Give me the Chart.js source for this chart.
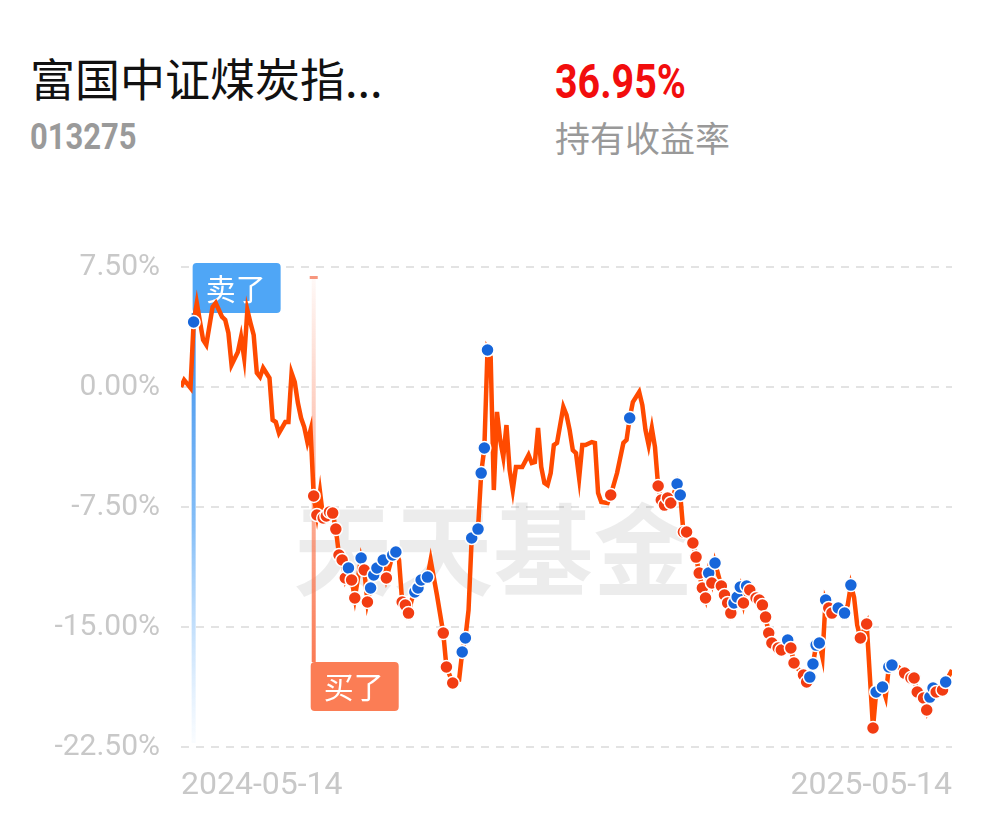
<!DOCTYPE html>
<html>
<head>
<meta charset="utf-8">
<script src="https://cdn.jsdelivr.net/npm/chart.js@4.4.1/dist/chart.umd.min.js"></script>
<style>
  html, body { margin: 0; padding: 0; background: #fff; }
  body { width: 995px; height: 821px; position: relative; overflow: hidden; }
  #chart { position: absolute; left: 0; top: 0; }
  .t { position: absolute; line-height: 1; white-space: nowrap; }
  #name { left: 30px; top: 45px; font: 45px "Noto Sans CJK SC"; color: #111; }
  #code { left: 30px; top: 116px; font: bold 36px Roboto; color: #9a9a9a; transform: scaleX(0.86); transform-origin: left; }
  #rate { left: 555px; top: 53px; font: bold 48px Roboto; color: #f20d0d; transform: scaleX(0.82); transform-origin: left; }
  #rateLabel { left: 555px; top: 111px; font: 35px "Noto Sans CJK SC"; color: #999; }
</style>
</head>
<body>
<div class="t" id="name">富国中证煤炭指...</div>
<div class="t" id="code">013275</div>
<div class="t" id="rate">36.95%</div>
<div class="t" id="rateLabel">持有收益率</div>
<canvas id="chart" width="995" height="821"></canvas>
<script>
// trading day index (0 = 2024-05-14, 244 = 2025-05-14)
const days = [
  0, 1, 2, 3, 4, 5, 7, 8, 10, 11, 13, 14, 15, 16, 18, 19, 20, 21, 22, 23, 24, 25, 26, 28, 29, 30, 31, 33, 34, 35, 36, 37, 38, 39, 40, 41,
  42, 43, 44, 45, 46, 47, 48, 49, 50, 51, 52, 53, 54, 55, 57, 58, 59, 60, 61, 62, 64, 65, 67, 68, 69, 70, 71, 72, 73, 74,
  75, 76, 78, 79, 81, 83, 84, 85, 86, 88, 89, 90, 91, 92, 94, 95, 96, 97,
  98, 99, 100, 101, 102, 103, 104, 105, 106, 108, 110, 111, 112, 113, 114, 115, 116, 117, 118, 119,
  121, 122, 123, 124, 125, 126, 127, 128, 130, 131, 132, 133, 135, 136, 138, 140, 141, 142, 143, 145,
  146, 147, 148, 149, 150,
  151, 152, 153, 154, 155, 157, 158, 159, 160, 162, 163, 164, 165, 166, 167, 168, 169, 171, 172, 173,
  174, 175, 176, 177, 178, 179, 180, 182, 183, 184, 185, 186, 187, 189, 190, 192, 193, 194, 195, 197,
  198, 199, 200, 201, 202, 203, 204, 205, 206, 208, 210, 211, 212, 213, 214, 215, 217, 219, 220, 222,
  223, 224, 225, 227, 229, 231, 232, 233, 235, 236, 237, 238, 239, 241, 242, 244
];

// 持有收益率 (%)
const returns = [
  0.00, 0.44, 0.19, -0.06, 4.06, 5.25, 2.94, 2.63, 5.00, 5.25, 4.38, 4.19, 3.38, 1.38, 2.19, 3.13, 1.81, 4.81, 4.00, 3.25,
  0.88, 0.63, 1.19, 0.56, -2.06, -2.19, -2.88, -2.19, -2.19, 0.88, 0.31, -1.00, -1.94, -2.50, -3.44, -2.69,
  -6.81, -8.00, -6.56, -8.19, -8.06, -7.81, -7.88, -8.88, -10.50, -10.81, -11.94, -11.31, -12.06, -13.19, -10.69, -11.44, -13.44, -12.56, -11.75, -11.31,
  -10.81, -11.94, -10.50, -10.31, -10.81, -13.44, -13.63, -14.13, -13.31, -12.81, -12.56, -12.06, -11.88, -10.81, -13.00, -15.38, -17.50, -18.00, -18.50, -18.31,
  -16.56, -15.69, -13.94, -9.44, -8.88, -5.38, -3.81, 2.31,
  1.88, -6.44, -1.56, -3.31, -4.38, -2.38, -5.19, -6.44, -5.00, -5.00, -4.25, -4.75, -4.69, -2.56, -5.00, -6.00, -6.13, -5.38, -3.63, -3.50,
  -1.25, -1.75, -2.69, -3.94, -4.13, -5.69, -3.63, -3.63, -3.44, -3.50, -6.63, -7.19, -7.25, -6.75, -5.38, -3.50, -3.31, -1.94, -0.94, -0.31,
  -1.13, -2.69, -3.63, -2.56, -3.75,
  -6.19, -7.06, -7.38, -6.94, -7.25, -6.06, -6.75, -9.06, -9.06, -9.75, -10.63, -11.63, -12.56, -13.19, -11.63, -12.25, -11.00, -12.44, -13.00, -13.50,
  -14.13, -13.50, -13.13, -12.50, -13.50, -12.44, -12.69, -13.19, -13.31, -13.63, -14.38, -15.38, -16.00, -16.31, -16.44, -15.81, -16.31, -17.25, -17.56, -18.00,
  -18.44, -18.13, -17.31, -16.13, -16.00, -16.88, -13.31, -13.81, -14.13, -13.81, -14.13, -13.63, -12.38, -13.13, -14.88, -15.69, -14.81, -21.31, -19.06, -18.75,
  -19.38, -17.50, -17.38, -17.50, -17.88, -18.19, -18.19, -19.06, -19.44, -20.19, -19.38, -18.81, -19.06, -18.94, -18.44, -17.69
];

// B = 买入, S = 卖出, '' = no trade
const trades = [
  '', '', '', '', 'S', '', '', '', '', '', '', '', '', '', '', '', '', '', '', '',
  '', '', '', '', '', '', '', '', '', '', '', '', '', '', '', '',
  'B', 'B', '', 'B', 'B', 'B', 'B', 'B', 'B', 'B', 'B', 'S', 'B', 'B', 'S', 'B', 'B', 'S', 'S', 'S',
  'S', 'B', 'S', 'S', '', 'B', 'B', 'B', '', 'S', 'S', 'S', 'S', '', '', 'B', 'B', '', 'B', '',
  'S', 'S', '', 'S', 'S', 'S', 'S', 'S',
  '', '', '', '', '', '', '', '', '', '', '', '', '', '', '', '', '', '', '', '',
  '', '', '', '', '', '', '', '', '', '', '', '', '', 'B', '', '', '', 'S', '', '',
  '', '', '', '', '',
  'B', 'B', 'B', 'B', 'B', 'S', 'S', 'B', 'B', 'B', 'B', 'B', 'B', 'B', 'S', 'B', 'S', 'B', 'B', 'B',
  'B', 'S', 'S', 'S', 'B', 'S', 'B', 'B', 'B', 'B', 'B', 'B', 'B', 'B', 'B', 'S', 'B', 'B', '', 'B',
  'B', 'S', 'S', 'S', 'S', '', 'S', 'B', 'B', 'S', 'S', '', 'S', '', '', 'B', 'B', 'B', 'S', 'S',
  '', 'S', 'S', '', 'B', 'B', 'B', 'B', 'B', 'B', 'S', 'S', 'B', 'B', 'S', ''
];

const dateLabels = { 0: '2024-05-14', 244: '2025-05-14' };
const yTicks = [7.5, 0, -7.5, -15, -22.5];

const LINE = '#ff4a00';
const BUY = '#f23c12';
const SELL = '#1766da';

// 水印 + 买卖标签
const tradeTags = {
  id: 'tradeTags',
  beforeDatasetsDraw(chart) {
    const { ctx, chartArea: a, scales: { x, y } } = chart;
    ctx.save();

    ctx.font = 'bold 100px "Noto Sans CJK SC"';
    ctx.fillStyle = 'rgba(0,0,0,0.075)';
    ctx.textAlign = 'center';
    ctx.textBaseline = 'middle';
    ctx.fillText('天天基金', a.left + a.width * 0.405, a.top + a.height * 0.59);

    // 卖了
    const si = trades.indexOf('S');
    const sx = x.getPixelForValue(days[si]);
    let g = ctx.createLinearGradient(0, a.top + 46, 0, a.bottom);
    g.addColorStop(0, 'rgba(55,140,235,1)');
    g.addColorStop(0.5, 'rgba(95,170,245,0.75)');
    g.addColorStop(1, 'rgba(140,195,250,0.03)');
    ctx.fillStyle = g;
    ctx.fillRect(sx - 2, a.top + 46, 4, a.bottom - a.top - 50);
    ctx.fillStyle = '#4fa6f6';
    ctx.beginPath();
    ctx.roundRect(sx - 1, a.top - 4, 88, 50, 4);
    ctx.fill();
    ctx.fillStyle = '#fff';
    ctx.font = '30px "Noto Sans CJK SC"';
    ctx.fillText('卖了', sx + 42, a.top + 22);

    // 买了
    const bi = trades.indexOf('B');
    const bx = x.getPixelForValue(days[bi]);
    const boxTop = a.bottom - 85;
    g = ctx.createLinearGradient(0, a.top + 10, 0, boxTop);
    g.addColorStop(0, 'rgba(250,115,75,0.04)');
    g.addColorStop(1, 'rgba(250,115,75,0.95)');
    ctx.fillStyle = g;
    ctx.fillRect(bx - 2, a.top + 10, 4, boxTop - a.top - 10);
    ctx.fillStyle = 'rgba(245,125,95,0.8)';
    ctx.fillRect(bx - 4, a.top + 9, 8, 3);
    ctx.fillStyle = '#fb7d55';
    ctx.beginPath();
    ctx.roundRect(bx - 3, boxTop, 88, 49, 4);
    ctx.fill();
    ctx.fillStyle = '#fff';
    ctx.fillText('买了', bx + 40, boxTop + 25);

    ctx.restore();
  }
};

new Chart(document.getElementById('chart'), {
  type: 'line',
  data: {
    datasets: [{
      data: days.map((d, i) => ({ x: d, y: returns[i] })),
      borderColor: LINE,
      borderWidth: 4.5,
      tension: 0,
      fill: false,
      pointRadius: trades.map(t => t ? 6.5 : 0),
      pointBackgroundColor: trades.map(t => t === 'S' ? SELL : BUY),
      pointBorderColor: '#fff',
      pointBorderWidth: 1.5,
    }],
  },
  options: {
    responsive: false,
    animation: false,
    layout: { padding: { top: 267, right: 43, bottom: 0, left: 0 } },
    plugins: { legend: { display: false }, tooltip: { enabled: false } },
    scales: {
      x: {
        type: 'linear',
        min: 0,
        max: 244,
        grid: { display: false },
        border: { display: false },
        afterBuildTicks: s => { s.ticks = Object.keys(dateLabels).map(v => ({ value: Number(v) })); },
        afterFit: s => { s.height = 74; },
        ticks: {
          align: 'inner',
          maxRotation: 0,
          padding: 12,
          color: '#c8c8c8',
          font: { family: 'Roboto', size: 32 },
          callback: v => dateLabels[v],
        },
      },
      y: {
        min: -22.5,
        max: 7.5,
        afterBuildTicks: s => { s.ticks = yTicks.map(v => ({ value: v })); },
        afterFit: s => { s.width = 181; },
        grid: { color: '#e3e3e3', lineWidth: 2, drawTicks: false },
        border: { display: false, dash: [8, 7] },
        ticks: {
          padding: 21,
          color: '#c8c8c8',
          font: { family: 'Roboto', size: 30 },
          callback: v => v.toFixed(2) + '%',
        },
      },
    },
  },
  plugins: [tradeTags],
});
</script>
</body>
</html>
